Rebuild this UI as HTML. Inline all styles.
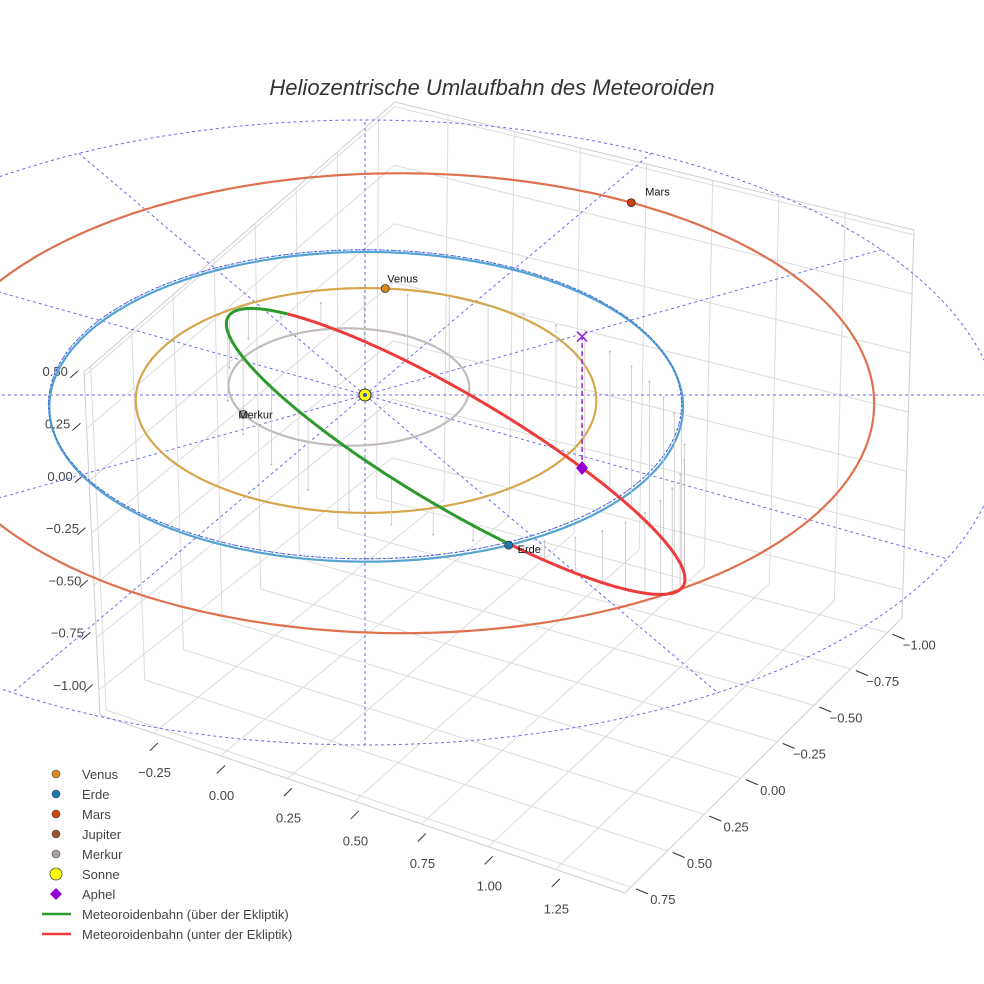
<!DOCTYPE html>
<html><head><meta charset="utf-8"><style>
html,body{margin:0;padding:0;background:#fff;}
svg{display:block;font-family:"Liberation Sans",sans-serif;}
</style></head><body>
<svg id="chart" width="984" height="984" viewBox="0 0 984 984" xmlns="http://www.w3.org/2000/svg">
<rect width="984" height="984" fill="#fff"/>
<text x="492" y="95" text-anchor="middle" font-size="22" font-style="italic" fill="#333">Heliozentrische Umlaufbahn des Meteoroiden</text>
<g id="box"></g><g id="grid"></g><g id="orbits"></g><g id="marks"></g>
<g id="legend" font-size="13" fill="#444"></g>
</svg>
<script>
// ---- data ----
const planetNames = ['Venus','Erde','Mars','Merkur'];
const planetA = [0.728, 1.0, 1.5, 0.387];
const planetE = [0.0068, 0.0167, 0.0934, 0.2056];
const planetPeri = [131, 103, 215, 310];
const planetAngle = [84.7, -65, 56, 198];
const metA = 0.883;
const metE = 0.389;
const metIncl = 40;
const metNode = -65;
const metOmega = 230;
const aphelAngle = 93;
const xTicks = [-0.25, 0, 0.25, 0.5, 0.75, 1.0, 1.25];
const yTicks = [-1.0, -0.75, -0.5, -0.25, 0, 0.25, 0.5, 0.75];
const zTicks = [-1.0, -0.75, -0.5, -0.25, 0, 0.25, 0.5];
const gridRings = [1, 2];
const gridSpokes = [0,30,60,90,120,150,180,210,240,270,300,330];

const NS='http://www.w3.org/2000/svg';
function mk(parent,tag,attrs){const e=document.createElementNS(NS,tag);for(const k in attrs)e.setAttribute(k,attrs[k]);parent.appendChild(e);return e;}
const D=Math.PI/180;
function P(X,Y,Z){const f=1/(1+0.06*Y);return [365+316*X*f, 395-(154*Y+200*Z)*f];}
const xmin=-0.45,xmax=1.51,ymin=-1.1,ymax=0.79,zmin=-1.12,zmax=0.52;
const CR={
 '000':[392,486],'100':[902,618],'010':[100,715],'110':[625,893],
 '001':[395,102],'101':[914,230],'011':[84,372],'111':[612,520]};
function B(x,y,z){const u=(x-xmin)/(xmax-xmin),v=(y-ymin)/(ymax-ymin),w=(z-zmin)/(zmax-zmin);
 let sx=0,sy=0;for(let i=0;i<2;i++)for(let j=0;j<2;j++)for(let k=0;k<2;k++){
  const wt=(i?u:1-u)*(j?v:1-v)*(k?w:1-w);const c=CR[''+i+j+k];sx+=wt*c[0];sy+=wt*c[1];}
 return [sx,sy];}
function pathOf(pts){return pts.map((p,i)=>(i?'L':'M')+p[0].toFixed(1)+' '+p[1].toFixed(1)).join(' ');}

// ---- box ----
const box=document.getElementById('box');
function bl(a,b,c,name){const l=mk(box,'line',{x1:a[0],y1:a[1],x2:b[0],y2:b[1],stroke:c||'#dcdcdc','stroke-width':1});
}
xTicks.forEach(x=>{bl(B(x,ymin,zmin),B(x,ymax,zmin),null,'floor-grid-x');bl(B(x,ymin,zmin),B(x,ymin,zmax),null,'wall-grid-x');});
yTicks.forEach(y=>{bl(B(xmin,y,zmin),B(xmax,y,zmin),null,'floor-grid-y');bl(B(xmin,y,zmin),B(xmin,y,zmax),null,'wall-grid-y');});
zTicks.forEach(z=>{bl(B(xmin,ymin,z),B(xmax,ymin,z),null,'wall-grid-z');bl(B(xmin,ymin,z),B(xmin,ymax,z),null,'wall-grid-z');});
[[B(xmin,ymax,zmin),B(xmax,ymax,zmin)],[B(xmax,ymax,zmin),B(xmax,ymin,zmin)],[B(xmin,ymax,zmin),B(xmin,ymax,zmax)],
 [B(xmin,ymin,zmax),B(xmax,ymin,zmax)],[B(xmin,ymin,zmax),B(xmin,ymax,zmax)],[B(xmax,ymin,zmin),B(xmax,ymin,zmax)]]
 .forEach(s=>bl(s[0],s[1],'#cfcfcf','box-edge'));
function tl(e,off,dir,txt,name){
  const c=[e[0]+off[0]*0.35,e[1]+off[1]*0.35];
  const l=mk(box,'line',{x1:c[0]-dir[0],y1:c[1]-dir[1],x2:c[0]+dir[0],y2:c[1]+dir[1],stroke:'#333','stroke-width':1});
  
  const t=mk(box,'text',{x:e[0]+off[0],y:e[1]+off[1]+5,'text-anchor':'middle','font-size':13,fill:'#444'});
  t.textContent=txt;}
const fmt=v=>(v<0?'\u2212':'')+Math.abs(v).toFixed(2);
xTicks.forEach(x=>tl(B(x,ymax,zmin),[1,39],[4,-4],fmt(x),'x-axis'));
yTicks.forEach(y=>tl(B(xmax,y,zmin),[32,12],[6,2.5],fmt(y),'y-axis'));
zTicks.forEach(z=>tl(B(xmin,ymax,z),[-29,-5],[4,-3.5],fmt(z),'z-axis'));

// ---- ecliptic grid ----
const grid=document.getElementById('grid');
gridRings.forEach(r=>{const pts=[];for(let a=0;a<=360;a+=2)pts.push(P(r*Math.cos(a*D),r*Math.sin(a*D),0));
 const p=mk(grid,'path',{d:pathOf(pts),fill:'none',stroke:'#6a6aee','stroke-width':1,'stroke-dasharray':'3,3'});
 });
gridSpokes.forEach(a=>{const s=P(0,0,0),e=P(2*Math.cos(a*D),2*Math.sin(a*D),0);
 const l=mk(grid,'line',{x1:s[0],y1:s[1],x2:e[0],y2:e[1],stroke:'#6a6aee','stroke-width':1,'stroke-dasharray':'3,3'});
 });

// ---- planet orbits ----
const orb=document.getElementById('orbits');
const orbitColors=['#d4a64e','#55a3d2','#de7150','#c4bcbc'];
function planetPos(i,ang){const a=planetA[i],e=planetE[i];const r=a*(1-e*e)/(1+e*Math.cos((ang-planetPeri[i])*D));return [r*Math.cos(ang*D),r*Math.sin(ang*D)];}
planetNames.forEach((n,i)=>{const pts=[];for(let a=0;a<=360;a+=1){const q=planetPos(i,a);pts.push(P(q[0],q[1],0));}
 const p=mk(orb,'path',{d:pathOf(pts),fill:'none',stroke:orbitColors[i],'stroke-width':2.2});
 });
{const pts=[];for(let a=0;a<=360;a+=2)pts.push(P(Math.cos(a*D),Math.sin(a*D),0));
 const p=mk(orb,'path',{d:pathOf(pts),fill:'none',stroke:'#2255cc','stroke-width':1,'stroke-dasharray':'2,2','opacity':0.8});
 }

// ---- meteoroid orbit ----
const nH=[Math.cos(metNode*D),Math.sin(metNode*D),0];
const mH=[Math.cos((metNode+90)*D),Math.sin((metNode+90)*D),0];
const ci=Math.cos(metIncl*D),si=Math.sin(metIncl*D);
const wH=[ci*mH[0],ci*mH[1],-si];
const pPar=metA*(1-metE*metE);
function met(phi){const r=pPar/(1+metE*Math.cos((phi-metOmega)*D));const c=Math.cos(phi*D),s=Math.sin(phi*D);
 return [r*(c*nH[0]+s*wH[0]),r*(c*nH[1]+s*wH[1]),r*(c*nH[2]+s*wH[2])];}
for(let k=0;k<36;k++){const M=k/36*2*Math.PI;let E=M;for(let j=0;j<30;j++)E=M+metE*Math.sin(E);
 const nu=2*Math.atan2(Math.sqrt(1+metE)*Math.sin(E/2),Math.sqrt(1-metE)*Math.cos(E/2))/D;
 const q=met(nu+metOmega);const a=P(q[0],q[1],q[2]),b=P(q[0],q[1],0);
 const l=mk(orb,'line',{x1:a[0],y1:a[1],x2:b[0],y2:b[1],stroke:'#c8c8c8','stroke-width':0.8});
 
 const c=mk(orb,'circle',{cx:b[0],cy:b[1],r:1,fill:'#bbb'});
 }
{const green=[],red=[];
 for(let a=0;a<=180;a+=0.5){const q=met(a);red.push(P(q[0],q[1],q[2]));}
 for(let a=180;a<=360;a+=0.5){const q=met(a);green.push(P(q[0],q[1],q[2]));}
 const g=mk(orb,'path',{d:pathOf(green),fill:'none',stroke:'#2e9a2e','stroke-width':3});
 
 const r=mk(orb,'path',{d:pathOf(red),fill:'none',stroke:'#ee3b3b','stroke-width':3});
 }

// ---- markers ----
const mg=document.getElementById('marks');
{const q=met(aphelAngle);const a=P(q[0],q[1],q[2]),b=P(q[0],q[1],0);
 const l=mk(mg,'line',{x1:a[0],y1:a[1],x2:b[0],y2:b[1],stroke:'#9b22d6','stroke-width':1.5,'stroke-dasharray':'5,3'});
 
 const x=mk(mg,'path',{d:`M${b[0]-5} ${b[1]-5}L${b[0]+5} ${b[1]+5}M${b[0]+5} ${b[1]-5}L${b[0]-5} ${b[1]+5}`,stroke:'#9b22d6','stroke-width':1.5});
 
 const d=mk(mg,'path',{d:`M${a[0]} ${a[1]-7}L${a[0]+6} ${a[1]}L${a[0]} ${a[1]+7}L${a[0]-6} ${a[1]}Z`,fill:'#9400d3'});
 }
const markerColors=['#d98a1a','#1f77b4','#cc4411','#aaa0a0'];
const labelOff=[[2,-6],[9,8],[14,-7],[-5,4]];
planetNames.forEach((n,i)=>{const q=planetPos(i,planetAngle[i]);const p=P(q[0],q[1],0);
 const c=mk(mg,'circle',{cx:p[0],cy:p[1],r:4,fill:markerColors[i],stroke:'#333','stroke-width':0.8});
 
 const t=mk(mg,'text',{x:p[0]+labelOff[i][0],y:p[1]+labelOff[i][1],'font-size':11,fill:'#111'});t.textContent=n;
 });
{const s=P(0,0,0);const c=mk(mg,'circle',{cx:s[0],cy:s[1],r:6,fill:'#ffff00',stroke:'#333','stroke-width':1});
 
 const c2=mk(mg,'circle',{cx:s[0],cy:s[1],r:2,fill:'#3355cc'});
 }

// ---- legend ----
const lg=document.getElementById('legend');
const legNames=['Venus','Erde','Mars','Jupiter','Merkur','Sonne','Aphel','Meteoroidenbahn (über der Ekliptik)','Meteoroidenbahn (unter der Ekliptik)'];
const legColors=['#d98a1a','#1f77b4','#cc4411','#a0522d','#aaa0a0','#ffff00','#9400d3','#2e9a2e','#ee3b3b'];
legNames.forEach((n,i)=>{const y=774+i*20;const g=mk(lg,'g',{});
 
 if(i<5)mk(g,'circle',{cx:56,cy:y,r:4,fill:legColors[i],stroke:'#444','stroke-width':0.6});
 else if(i===5)mk(g,'circle',{cx:56,cy:y,r:6,fill:legColors[i],stroke:'#444','stroke-width':0.8});
 else if(i===6)mk(g,'path',{d:`M56 ${y-6}L62 ${y}L56 ${y+6}L50 ${y}Z`,fill:legColors[i]});
 else mk(g,'line',{x1:42,y1:y,x2:71,y2:y,stroke:legColors[i],'stroke-width':2.5});
 const t=mk(g,'text',{x:82,y:y+5,fill:'#444'});t.textContent=n;});
</script>
</body></html>
